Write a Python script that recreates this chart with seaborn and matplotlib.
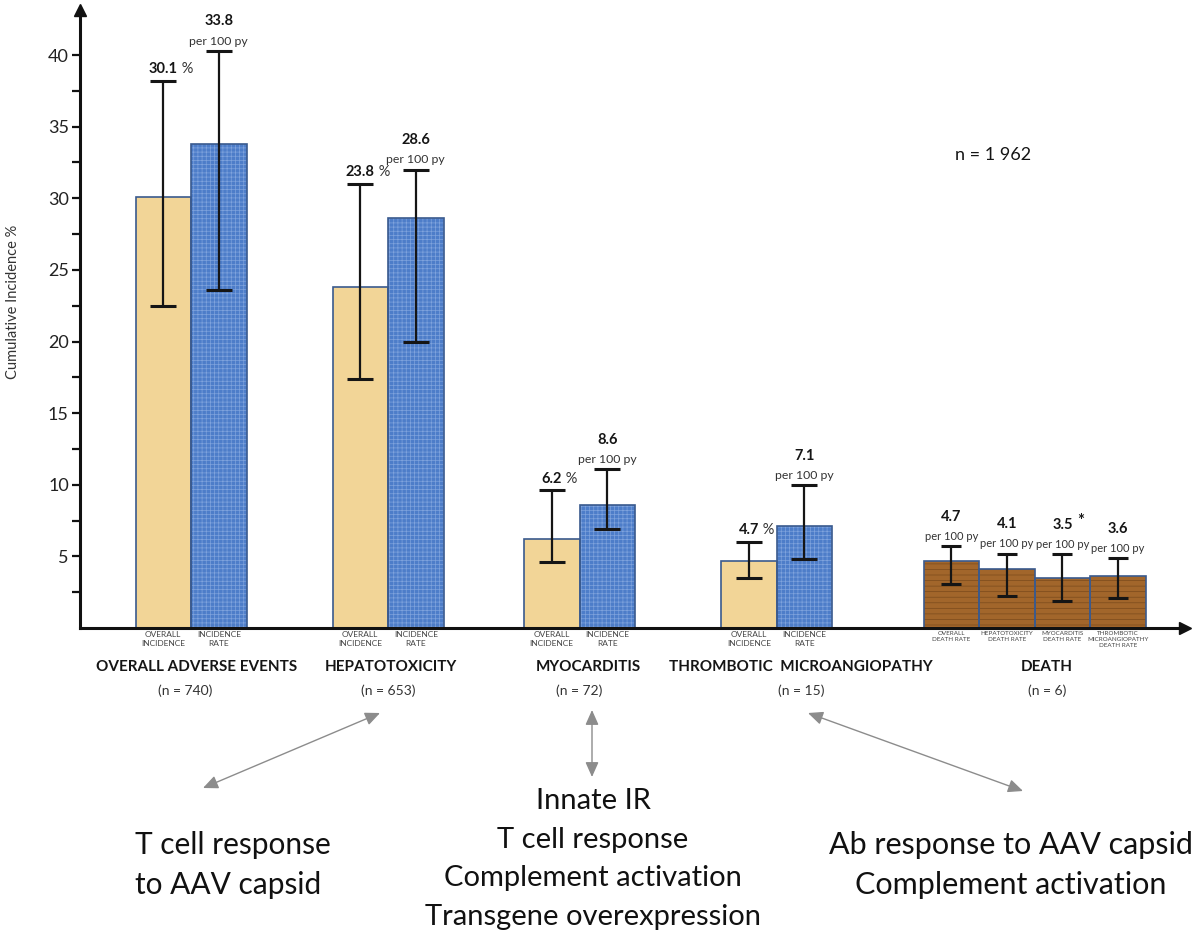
import numpy as np
import pandas as pd
import matplotlib
matplotlib.use("Agg")
import matplotlib.pyplot as plt
import matplotlib.transforms as mtransforms
import seaborn as sns

# ---------------- data ----------------
groups = ["OVERALL ADVERSE EVENTS", "HEPATOTOXICITY", "MYOCARDITIS",
          "THROMBOTIC  MICROANGIOPATHY", "DEATH"]
group_n = ["(n = 740)", "(n = 653)", "(n = 72)", "(n = 15)", "(n = 6)"]

incidence = [30.1, 23.8, 6.2, 4.7]          # overall incidence (%)
incidence_lo = [22.5, 17.4, 4.6, 3.5]
incidence_hi = [38.2, 31.0, 9.6, 6.0]

rate = [33.8, 28.6, 8.6, 7.1]               # incidence rate (per 100 py)
rate_lo = [23.6, 20.0, 6.9, 4.8]
rate_hi = [40.3, 32.0, 11.1, 10.0]

death_rate = [4.7, 4.1, 3.5, 3.6]           # death rates (per 100 py)
death_lo = [3.1, 2.2, 1.9, 2.1]
death_hi = [5.7, 5.2, 5.15, 4.9]
death_labels = ["OVERALL\nDEATH RATE", "HEPATOTOXICITY\nDEATH RATE",
                "MYOCARDITIS\nDEATH RATE",
                "THROMBOTIC\nMICROANGIOPATHY\nDEATH RATE"]
death_marks = ["", "", "*", ""]

incidence_label = "OVERALL\nINCIDENCE"
rate_label = "INCIDENCE\nRATE"
total_n = "n = 1 962"
y_ticks = [5, 10, 15, 20, 25, 30, 35, 40]
y_label = "Cumulative Incidence %"

note_left = "T cell response\nto AAV capsid"
note_mid = "Innate IR\nT cell response\nComplement activation\nTransgene overexpression"
note_right = "Ab response to AAV capsid\nComplement activation"

# ---------------- layout ----------------
W, H = 1201, 939
GROUP_X = [2.0, 5.55, 9.0, 12.55, 17.2]
PAIR_OFF = [-0.5, 0.5]
DEATH_OFF = [-1.5, -0.5, 0.5, 1.5]
LABEL_DX = [0.1, 0.05, 0.15, 0.43, 0.22]
N_DX = [-0.1, 0.0, 0.0, 0.45, 0.22]

C_YEL = "#F2D597"
C_BLUE = "#4D7DC9"
C_BROWN = "#A2662B"
H_YEL = "#E8C985"
H_BLUE = "#7FA3DD"
H_BROWN = "#7A4A1C"
EDGE = "#3A5A8E"

sns.set_theme(style="white")
plt.rcParams["font.family"] = ["Lato", "DejaVu Sans"]
plt.rcParams["hatch.linewidth"] = 0.5

rows = []
for i in range(4):
    rows.append(dict(x=GROUP_X[i] + PAIR_OFF[0], value=incidence[i], kind="incidence"))
    rows.append(dict(x=GROUP_X[i] + PAIR_OFF[1], value=rate[i], kind="rate"))
for j in range(4):
    rows.append(dict(x=GROUP_X[4] + DEATH_OFF[j], value=death_rate[j], kind="death"))
df = pd.DataFrame(rows)

fig = plt.figure(figsize=(W / 100, H / 100), dpi=100)
ax = fig.add_axes([80 / W, 1 - 628 / H, 1105 / W, 618 / H])

palette = {"incidence": C_YEL, "rate": C_BLUE, "death": C_BROWN}
sns.barplot(data=df, x="x", y="value", hue="kind", palette=palette,
            native_scale=True, dodge=False, width=1.0, errorbar=None,
            legend=False, ax=ax, linewidth=0, saturation=1)

hatch_map = {C_YEL: ("", H_YEL), C_BLUE: ("++++", H_BLUE), C_BROWN: ("---", H_BROWN)}
for p in ax.patches:
    fc = matplotlib.colors.to_hex(p.get_facecolor())
    for key, (hatch, hc) in hatch_map.items():
        if fc.lower() == key.lower():
            p.set_hatch(hatch)
            p.set_edgecolor(hc)
            p.set_linewidth(0)

sns.barplot(data=df, x="x", y="value", hue="kind",
            palette={k: EDGE for k in palette}, fill=False,
            native_scale=True, dodge=False, width=1.0, errorbar=None,
            legend=False, ax=ax, linewidth=1.2)

# error bars
xi = [GROUP_X[i] + PAIR_OFF[0] for i in range(4)]
xr = [GROUP_X[i] + PAIR_OFF[1] for i in range(4)]
xd = [GROUP_X[4] + d for d in DEATH_OFF]
for xs, v, lo, hi, cs in [(xi, incidence, incidence_lo, incidence_hi, 9.3),
                          (xr, rate, rate_lo, rate_hi, 9.3),
                          (xd, death_rate, death_lo, death_hi, 7.3)]:
    v = np.array(v); lo = np.array(lo); hi = np.array(hi)
    ax.errorbar(xs, v, yerr=[v - lo, hi - v], fmt="none", ecolor="#151515",
                elinewidth=1.6, capsize=cs, capthick=2.2, zorder=5)

# value labels
for x, v, hi in zip(xi, incidence, incidence_hi):
    t = ax.annotate(f"{v:.1f}", xy=(x, hi), xytext=(0, 3.5), textcoords="offset points",
                    ha="center", va="bottom", fontsize=10.5, fontweight="bold", color="#151515")
    ax.annotate(" %", xy=(1, 0), xycoords=t, ha="left", va="bottom",
                fontsize=10.5, color="#333333")
for xs, vals, his, marks, fs in [(xr, rate, rate_hi, [""] * 4, 8.8),
                                 (xd, death_rate, death_hi, death_marks, 8.0)]:
    for x, v, hi, m in zip(xs, vals, his, marks):
        ax.annotate("per 100 py", xy=(x, hi), xytext=(0, 3), textcoords="offset points",
                    ha="center", va="bottom", fontsize=fs, color="#333333")
        t = ax.annotate(f"{v:.1f}", xy=(x, hi), xytext=(0, 16), textcoords="offset points",
                        ha="center", va="bottom", fontsize=10.5, fontweight="bold", color="#151515")
        if m:
            ax.annotate(m, xy=(1, 1), xycoords=t, xytext=(3, -2), textcoords="offset points",
                        ha="left", va="center", fontsize=12, fontweight="bold", color="#151515")

# axes styling
ax.set_xlim(0, 1105 / 55.5)
ax.set_ylim(0, 618 / 14.325)
ax.set_xlabel("")
ax.set_xticks([])
ax.yaxis.set_major_locator(matplotlib.ticker.FixedLocator(y_ticks))
ax.yaxis.set_minor_locator(matplotlib.ticker.FixedLocator([t - 2.5 for t in y_ticks]))
ax.tick_params(axis="y", which="both", direction="out", left=True, length=6,
               width=1.6, color="#111111", labelsize=13, pad=2, labelcolor="#222222")
for s in ["top", "right"]:
    ax.spines[s].set_visible(False)
for s in ["left", "bottom"]:
    ax.spines[s].set_linewidth(2.2)
    ax.spines[s].set_color("#111111")
ax.plot(0, 1, marker="^", color="#111111", markersize=9, transform=ax.transAxes, clip_on=False)
ax.plot(1, 0, marker=">", color="#111111", markersize=9, transform=ax.transAxes, clip_on=False)
ax.set_ylabel(y_label, fontsize=10.5, color="#333333")
ax.yaxis.set_label_coords((20 - 80) / 1105, (628 - 302) / 618)

# category labels
blend = mtransforms.blended_transform_factory(ax.transData, ax.transAxes)
def yfrac(py):
    return (628 - py) / 618

for x in xi:
    ax.text(x, yfrac(631), incidence_label, transform=blend, ha="center", va="top",
            fontsize=6, color="#444444", linespacing=1.3)
for x in xr:
    ax.text(x, yfrac(631), rate_label, transform=blend, ha="center", va="top",
            fontsize=6, color="#444444", linespacing=1.3)
for x, lab in zip(xd, death_labels):
    ax.text(x, yfrac(631), lab, transform=blend, ha="center", va="top",
            fontsize=4.5, color="#444444", linespacing=1.3)
for g, lab, nl, dx, ndx in zip(GROUP_X, groups, group_n, LABEL_DX, N_DX):
    ax.text(g + dx, yfrac(667), lab, transform=blend, ha="center", va="center",
            fontsize=11, fontweight="bold", color="#151515")
    ax.text(g + ndx, yfrac(691), nl, transform=blend, ha="center", va="center",
            fontsize=10, color="#333333")

def fxy(px, py):
    return (px / W, 1 - py / H)

fig.text(*fxy(993, 155), total_n, ha="center", va="center", fontsize=13, color="#151515")

# arrows
for a, b in [((380, 713), (203, 788)), ((592, 710), (592, 777)), ((808, 713), (1023, 791))]:
    ax.annotate("", xy=fxy(*a), xycoords="figure fraction", xytext=fxy(*b),
                textcoords="figure fraction", annotation_clip=False,
                arrowprops=dict(arrowstyle="<|-|>,head_length=0.9,head_width=0.4",
                                color="#8C8C8C", lw=1.0, mutation_scale=10,
                                shrinkA=0, shrinkB=0))

fig.text(*fxy(135, 865), note_left, ha="left", va="center", fontsize=21.5,
         color="#111111", linespacing=1.5)
fig.text(*fxy(593, 859), note_mid, ha="center", va="center", fontsize=21,
         color="#111111", linespacing=1.6)
fig.text(*fxy(1011, 865), note_right, ha="center", va="center", fontsize=22,
         color="#111111", linespacing=1.5)

fig.savefig("out.png", dpi=100)
